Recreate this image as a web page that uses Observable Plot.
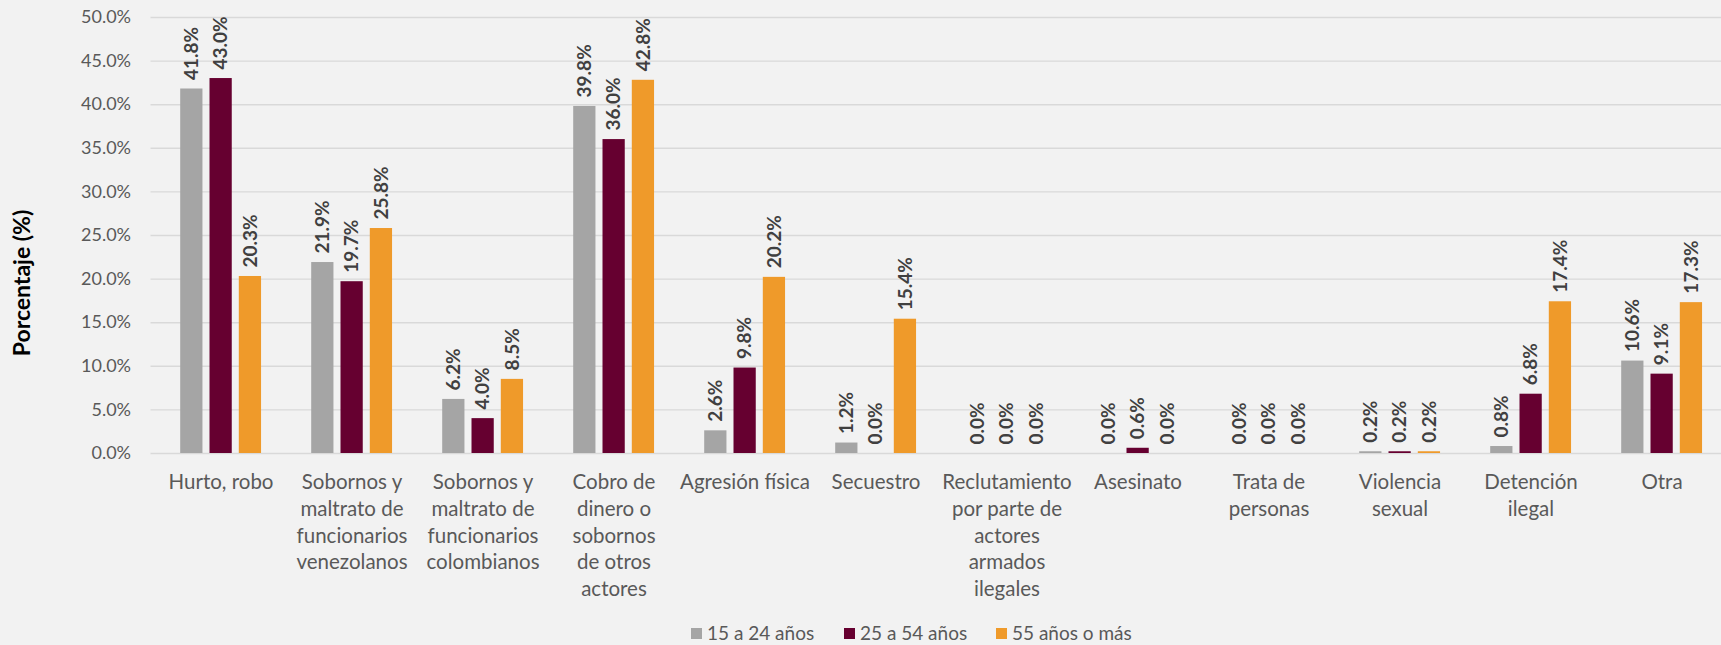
<!DOCTYPE html>
<html>
<head>
<meta charset="utf-8">
<script src="https://cdn.jsdelivr.net/npm/d3@7"></script>
<script src="https://cdn.jsdelivr.net/npm/@observablehq/plot@0.6"></script>
<style>
  html, body { margin: 0; padding: 0; background: #f2f2f2; }
  #wrap { position: relative; width: 1721px; height: 645px; background: #f2f2f2; font-family: Lato, "Open Sans", sans-serif; overflow: hidden; }
  #ytitle { position: absolute; left: 21px; top: 283px; transform: translate(-50%, -50%) rotate(-90deg); font-weight: bold; font-size: 23px; color: #000; white-space: nowrap; }
  #legend { position: absolute; left: 0; top: 623px; width: 1721px; height: 20px; font-size: 19px; color: #595959; line-height: 20px; }
  #legend .item { position: absolute; top: 0; display: flex; align-items: center; gap: 5px; white-space: nowrap; }
  #legend .sw { width: 11px; height: 11px; display: inline-block; }
</style>
</head>
<body>
<div id="wrap">
  <div id="chart"></div>
  <div id="ytitle">Porcentaje (%)</div>
  <div id="legend"></div>
</div>
<script>
const categories = ["Hurto, robo", "Sobornos y maltrato de funcionarios venezolanos", "Sobornos y maltrato de funcionarios colombianos", "Cobro de dinero o sobornos de otros actores", "Agresión física", "Secuestro", "Reclutamiento por parte de actores armados ilegales", "Asesinato", "Trata de personas", "Violencia sexual", "Detención ilegal", "Otra"];
const categoryLabels = ["Hurto, robo", "Sobornos y\nmaltrato de\nfuncionarios\nvenezolanos", "Sobornos y\nmaltrato de\nfuncionarios\ncolombianos", "Cobro de\ndinero o\nsobornos\nde otros\nactores", "Agresión física", "Secuestro", "Reclutamiento\npor parte de\nactores\narmados\nilegales", "Asesinato", "Trata de\npersonas", "Violencia\nsexual", "Detención\nilegal", "Otra"];
const series = ["15 a 24 años", "25 a 54 años", "55 años o más"];
const colors = ["#a5a5a5", "#660030", "#ef9a2a"];
const v15a24 = [41.8, 21.9, 6.2, 39.8, 2.6, 1.2, 0.0, 0.0, 0.0, 0.2, 0.8, 10.6];
const v25a54 = [43.0, 19.7, 4.0, 36.0, 9.8, 0.0, 0.0, 0.6, 0.0, 0.2, 6.8, 9.1];
const v55mas = [20.3, 25.8, 8.5, 42.8, 20.2, 15.4, 0.0, 0.0, 0.0, 0.2, 17.4, 17.3];
const yTicks = [0, 5, 10, 15, 20, 25, 30, 35, 40, 45, 50];

const seriesValues = [v15a24, v25a54, v55mas];
const data = [];
categories.forEach((c, i) => {
  series.forEach((s, j) => data.push({category: c, series: s, value: seriesValues[j][i]}));
});

// layout (pixels)
const W = 1721, mLeft = 150.5, mRight = -10.5;
const bandW = (W - mLeft - mRight) / categories.length;
const barW = 23, barStep = 29.3, firstOffset = 25.2;

const barMarks = [];
const labelMarks = [];
series.forEach((s, j) => {
  const left = firstOffset + j * barStep;
  const sub = data.filter(d => d.series === s);
  barMarks.push(Plot.barY(sub, {x: "category", y: "value", fill: "series", insetLeft: left, insetRight: bandW - left - barW}));
  labelMarks.push(Plot.text(sub, {x: "category", y: "value", text: d => d.value.toFixed(1) + "%", rotate: -90, textAnchor: "start", dx: left + barW / 2 - bandW / 2, dy: -9, fontWeight: "bold", fontSize: 19, fill: "#404040"}));
});

const chart = Plot.plot({
  width: W,
  height: 615,
  marginLeft: mLeft,
  marginRight: mRight,
  marginTop: 17,
  marginBottom: 162,
  style: {background: "#f2f2f2", fontFamily: "Lato, 'Open Sans', sans-serif", color: "#595959"},
  x: {domain: categories, padding: 0, label: null, axis: null},
  y: {domain: [0, 50], label: null, axis: null},
  color: {domain: series, range: colors},
  marks: [
    Plot.gridY(yTicks, {stroke: "#d9d9d9", strokeOpacity: 1, strokeWidth: 1.4}),
    ...barMarks,
    ...labelMarks,
    Plot.axisY({ticks: yTicks, tickSize: 0, tickPadding: 20, tickFormat: d => d.toFixed(1) + "%", fontSize: 18, fill: "#595959", label: null}),
    Plot.axisX({anchor: "bottom", tickSize: 0, tickPadding: 17, lineHeight: 1.3, fontSize: 20.5, fill: "#595959", tickFormat: d => categoryLabels[categories.indexOf(d)], label: null})
  ]
});
document.getElementById("chart").appendChild(chart);

const legendLeft = [691, 844, 996];
const legend = document.getElementById("legend");
series.forEach((s, i) => {
  const item = document.createElement("div");
  item.className = "item";
  item.style.left = legendLeft[i] + "px";
  const sw = document.createElement("span");
  sw.className = "sw";
  sw.style.background = colors[i];
  const t = document.createElement("span");
  t.textContent = s;
  item.appendChild(sw);
  item.appendChild(t);
  legend.appendChild(item);
});
</script>
</body>
</html>
